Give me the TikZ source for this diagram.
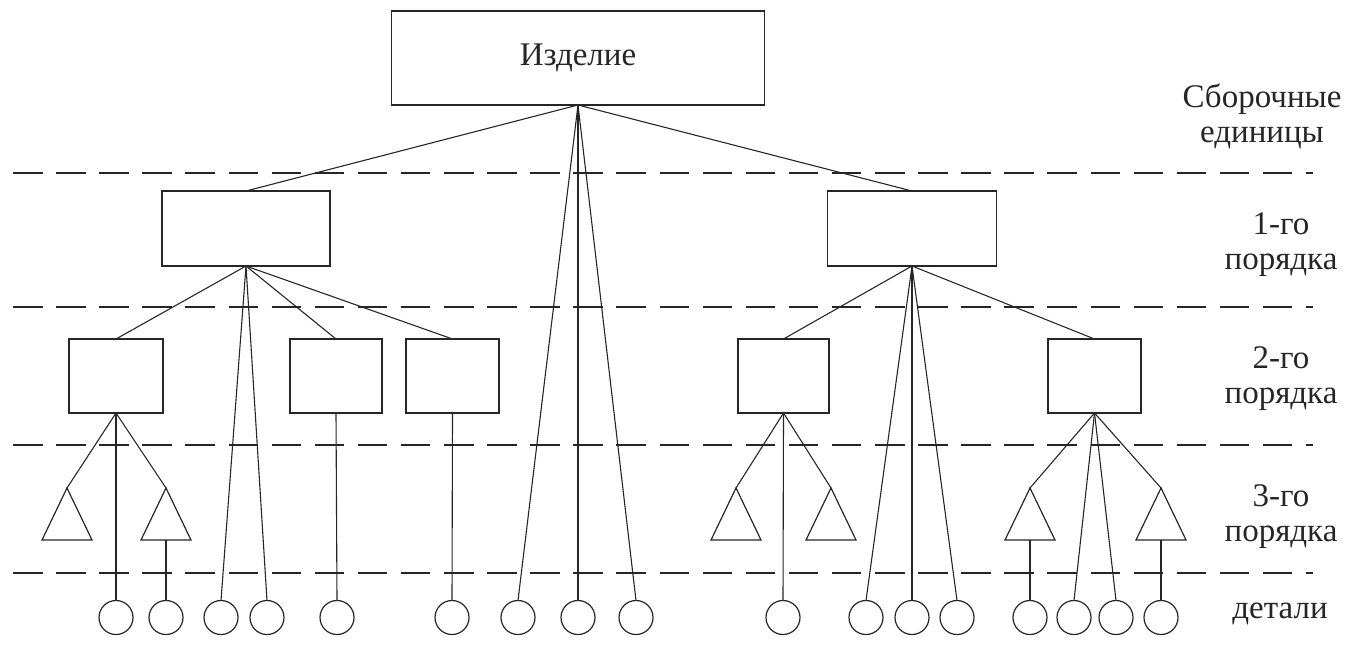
\documentclass[tikz,border=0pt]{standalone}
\usepackage{fontspec}
\setmainfont{Liberation Serif}
\newcommand\mktri[2]{%
  \coordinate (#1) at (#2,488);
  \coordinate (#1b) at (#2,540);
  \draw[tri] (#1) -- ++(25,52) -- ++(-50,0) -- cycle;}
\begin{document}
\begin{tikzpicture}[x=1pt,y=-1pt,
  txt/.style={font=\fontsize{33}{35}\selectfont, text=black!85},
  blk/.style={draw=black!85, line width=1.3pt, inner sep=0pt, outer sep=0pt, txt},
  part/.style={circle, draw=black!85, line width=1.2pt, minimum size=34pt, inner sep=0pt, outer sep=0pt},
  tri/.style={draw=black!85, line width=1.2pt, line join=miter},
  link/.style={draw=black!85, line width=1.1pt},
  level/.style={draw=black!85, line width=1.6pt, dash pattern=on 29.5pt off 13.6pt},
  lab/.style={txt, align=center, inner sep=0pt}]
\useasboundingbox (0,0) rectangle (1354,648);

% level separators
\foreach \yy in {173,307,445,573} \draw[level] (13,\yy) -- (1313,\yy);

% boxes
\node[blk, minimum width=373pt, minimum height=94pt] (top) at (578,58) {Изделие};
\node[blk, minimum width=168pt, minimum height=75pt] (L) at (246,228.5) {};
\node[blk, minimum width=169pt, minimum height=75pt] (R) at (912,228.5) {};
\node[blk, minimum width=94pt, minimum height=74pt] (A) at (116,376) {};
\node[blk, minimum width=92pt, minimum height=74pt] (B) at (336,376) {};
\node[blk, minimum width=93pt, minimum height=74pt] (C) at (452.5,376) {};
\node[blk, minimum width=91pt, minimum height=74pt] (D) at (783.5,376) {};
\node[blk, minimum width=93pt, minimum height=74pt] (E) at (1094.5,376) {};

% triangles
\mktri{tA1}{67}
\mktri{tA2}{166}
\mktri{tD1}{736}
\mktri{tD2}{831}
\mktri{tE1}{1030}
\mktri{tE2}{1161}

% parts
\foreach \nm/\xx in {cA/116, cA2/166, cL1/221, cL2/267, cB/337, cC/452, cT1/518, cT2/578, cT3/636,
  cD/783, cR1/866, cR2/912, cR3/957, cE1/1030, cE2/1074, cE3/1116, cE4/1161}
  \node[part] (\nm) at (\xx,617.5) {};

% connectors
\draw[link] (top.south) -- (L.north);
\draw[link] (top.south) -- (R.north);
\draw[link] (top.south) -- (cT1.north);
\draw[link] (top.south) -- (cT2.north);
\draw[link] (top.south) -- (cT3.north);

\draw[link] (L.south) -- (A.north);
\draw[link] (L.south) -- (B.north);
\draw[link] (L.south) -- (C.north);
\draw[link] (L.south) -- (cL1.north);
\draw[link] (L.south) -- (cL2.north);

\draw[link] (R.south) -- (D.north);
\draw[link] (R.south) -- (E.north);
\draw[link] (R.south) -- (cR1.north);
\draw[link] (R.south) -- (cR2.north);
\draw[link] (R.south) -- (cR3.north);

\draw[link] (A.south) -- (tA1);
\draw[link] (A.south) -- (cA.north);
\draw[link] (A.south) -- (tA2);
\draw[link] (tA2b) -- (cA2.north);
\draw[link] (B.south) -- (cB.north);
\draw[link] (C.south) -- (cC.north);

\draw[link] (D.south) -- (tD1);
\draw[link] (D.south) -- (cD.north);
\draw[link] (D.south) -- (tD2);

\draw[link] (E.south) -- (tE1);
\draw[link] (E.south) -- (cE2.north);
\draw[link] (E.south) -- (cE3.north);
\draw[link] (E.south) -- (tE2);
\draw[link] (tE1b) -- (cE1.north);
\draw[link] (tE2b) -- (cE4.north);

% level labels
\node[lab] (l0) at (1262,116) {Сборочные\\единицы};
\node[lab] (l1) at (1281,245) {1-го\\порядка};
\node[lab] (l2) at (1281,379) {2-го\\порядка};
\node[lab] (l3) at (1281,517) {3-го\\порядка};
\node[lab] (l4) at (1280,614) {детали};
\end{tikzpicture}
\end{document}
